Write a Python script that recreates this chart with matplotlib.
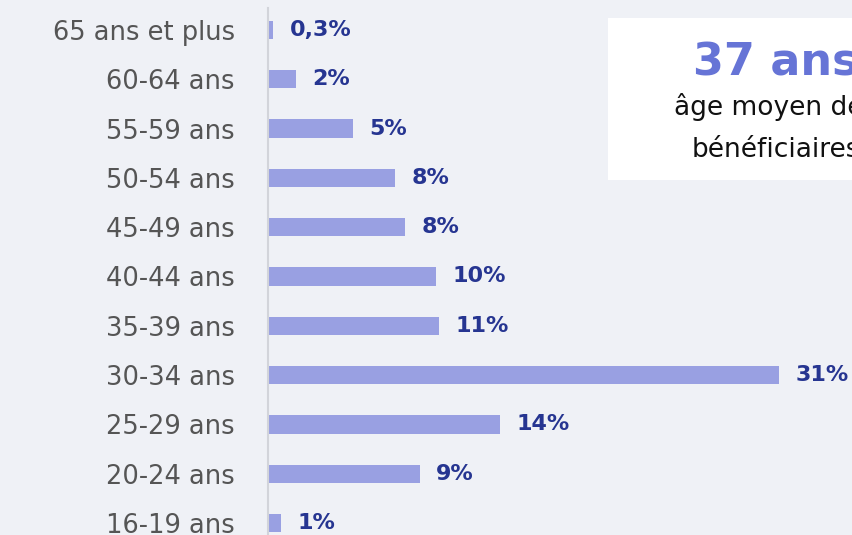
import matplotlib
matplotlib.use("Agg")
import matplotlib.pyplot as plt
from matplotlib.patches import Rectangle

categories = ["16-19 ans", "20-24 ans", "25-29 ans", "30-34 ans", "35-39 ans",
              "40-44 ans", "45-49 ans", "50-54 ans", "55-59 ans", "60-64 ans",
              "65 ans et plus"]
values = [0.8, 9.2, 14.1, 31.0, 10.4, 10.2, 8.3, 7.7, 5.15, 1.7, 0.3]
labels = ["1%", "9%", "14%", "31%", "11%", "10%", "8%", "8%", "5%", "2%", "0,3%"]

bg = "#eff1f6"
bar_color = "#99a0e2"
label_color = "#263591"
cat_color = "#555555"

fig = plt.figure(figsize=(8.52, 5.35), dpi=100, facecolor=bg)
ax = fig.add_axes([268/852, 0, 1 - 268/852, 527/535])
ax.set_facecolor(bg)

y = list(range(len(categories)))
ax.barh(y, values, height=0.37, color=bar_color)
ax.set_xlim(0, (852-268)/16.48)
ax.set_ylim(-12/49.3, 10 + 22/49.3)

for yi, v, lab in zip(y, values, labels):
    ax.text(v + 1.0, yi, lab, va="center", ha="left", fontsize=16,
            fontweight="bold", color=label_color)

ax.set_yticks(y)
ax.set_yticklabels(categories, fontsize=18.5, color=cat_color)
ax.tick_params(axis="y", length=0, pad=24)
ax.set_xticks([])
for s in ["top", "right", "bottom"]:
    ax.spines[s].set_visible(False)
ax.spines["left"].set_color("#d2d4da")
ax.spines["left"].set_linewidth(1.5)

# info box
box = Rectangle((608/852, 1 - 180/535), 0.4, (180-18)/535, transform=fig.transFigure,
                facecolor="white", edgecolor="none", zorder=5)
fig.patches.append(box)
cx = 776/852
fig.text(cx, 1 - 75/535, "37 ans", ha="center", va="baseline", fontsize=32,
         fontweight="bold", color="#6674d6", zorder=6)
fig.text(cx, 1 - 115/535, "âge moyen des", ha="center", va="baseline", fontsize=19,
         color="#111111", zorder=6)
fig.text(cx, 1 - 157/535, "bénéficiaires", ha="center", va="baseline", fontsize=19,
         color="#111111", zorder=6)

fig.savefig("out.png", dpi=100, facecolor=bg)
